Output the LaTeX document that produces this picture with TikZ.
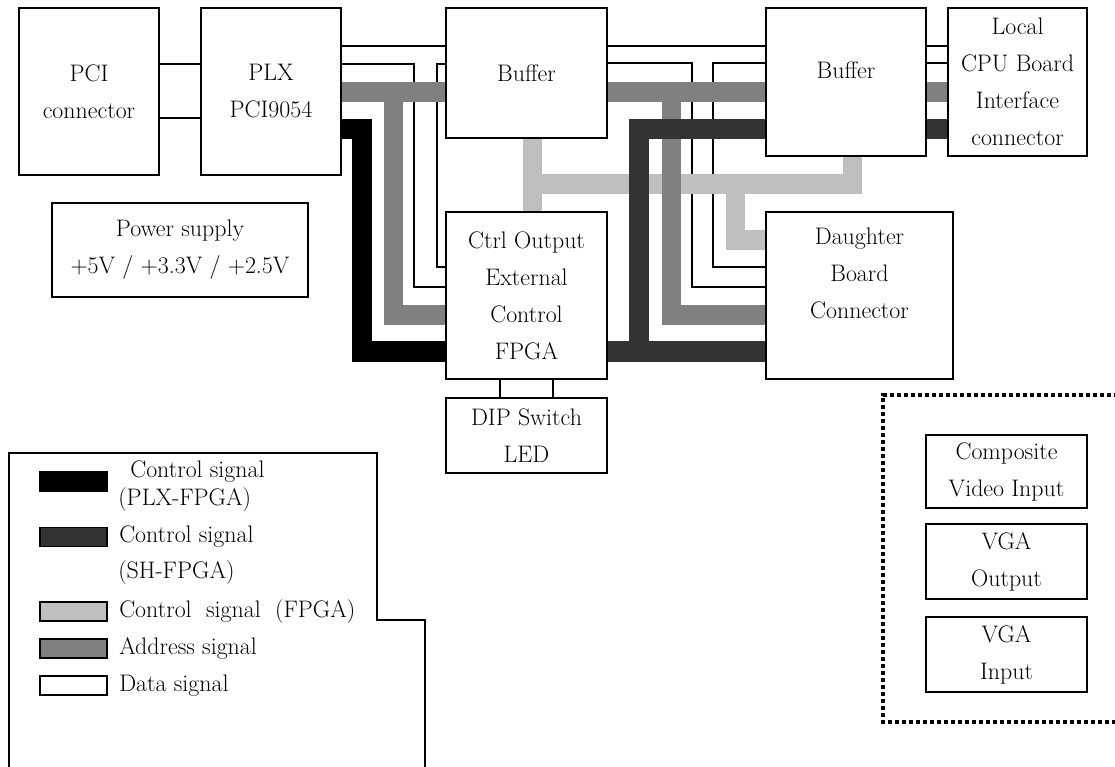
\documentclass[tikz,border=0pt]{standalone}
\usepackage{fontspec}
\usepackage{tikz}
\usetikzlibrary{positioning}
\tikzset{
block_box/.style={rectangle, draw, line width=1.8pt, fill=white, align=center, inner sep=0pt},
data_line/.style={line width=1.4pt},
ctrl_plx/.style={line width=0.5cm, color=black},
ctrl_sh/.style={line width=0.5cm, color=black!80},
ctrl_fpga/.style={line width=0.475cm, color=black!25},
addr_bus/.style={line width=0.475cm, color=black!50},
legend_swatch/.style={rectangle, draw, line width=1.4pt, minimum width=1.675cm, minimum height=0.475cm, inner sep=0pt},
legend_text/.style={anchor=west, inner sep=0pt},
legend_line/.style={line width=1.4pt},
dotted_frame/.style={line width=0.1cm, dash pattern=on 0.1cm off 0.075cm}
}

\begin{document}
\begin{tikzpicture}[x=0.025cm, y=-0.025cm, font=\fontsize{17}{26.3}\selectfont]
    \useasboundingbox (0,0) rectangle (1115,767);
    \node[block_box, minimum width=3.5cm, minimum height=4.175cm] (pci) at (89,91.5) {PCI\\connector};
    \node[block_box, minimum width=3.5cm, minimum height=4.175cm] (plx) at (271,91.5) {PLX\\PCI9054};
    \node[block_box, minimum width=4.025cm, minimum height=3.25cm] (buffer_1) at (526.5,73) {Buffer};
    \node[block_box, minimum width=4cm, minimum height=3.7cm, label={[yshift=0.3cm]center:Buffer}] (buffer_2) at (846,82) {};
    \node[block_box, minimum width=3.475cm, minimum height=3.7cm] (cpu_conn) at (1017.5,82) {Local\\CPU Board\\Interface\\connector};
    \node[block_box, minimum width=4.025cm, minimum height=4.175cm] (fpga) at (526.5,295.5) {Ctrl Output\\External\\Control\\FPGA};
    \node[block_box, minimum width=4.025cm, minimum height=1.875cm] (dip) at (526.5,435.5) {DIP Switch\\LED};
    \node[block_box, minimum width=4.675cm, minimum height=4.175cm, label={[yshift=0.5625cm, align=center]center:Daughter\\Board\\Connector}] (daughter) at (859.5,295.5) {};
    \node[block_box, minimum width=6.4cm, minimum height=2.35cm] (power) at (180,250) {Power supply\\+5V / +3.3V / +2.5V};
    \node[block_box, minimum width=4.025cm, minimum height=1.825cm] (composite) at (1006.5,471.5) {Composite\\Video Input};
    \node[block_box, minimum width=4.025cm, minimum height=1.875cm] (vga_out) at (1006.5,561.5) {VGA\\Output};
    \node[block_box, minimum width=4.025cm, minimum height=1.875cm] (vga_in) at (1006.5,654.5) {VGA\\Input};

    \draw[data_line] (pci.east |- 0,64) -- (plx.west |- 0,64);
    \draw[data_line] (pci.east |- 0,118) -- (plx.west |- 0,118);
    \draw[data_line] (plx.east |- 0,46) -- (buffer_1.west |- 0,46);
    \draw[data_line] (plx.east |- 0,64) -| (414,287) -- (fpga.west |- 0,287);
    \draw[data_line] (buffer_1.west |- 0,64) -| (437,267) -- (fpga.west |- 0,267);
    \draw[data_line] (buffer_1.east |- 0,46) -- (buffer_2.west |- 0,46);
    \draw[data_line] (buffer_1.east |- 0,63) -| (692,287) -- (daughter.west |- 0,287);
    \draw[data_line] (buffer_2.west |- 0,63) -| (713,267) -- (daughter.west |- 0,267);
    \draw[data_line] (buffer_2.east |- 0,46) -- (cpu_conn.west |- 0,46);
    \draw[data_line] (buffer_2.east |- 0,63) -- (cpu_conn.west |- 0,63);
    \draw[data_line] (fpga.south -| 500,0) -- (dip.north -| 500,0);
    \draw[data_line] (fpga.south -| 553,0) -- (dip.north -| 553,0);

    \draw[ctrl_fpga] (buffer_1.south -| 532.5,0) -- (fpga.north -| 532.5,0);
    \draw[ctrl_fpga] (532.5,184) -| (buffer_2.south -| 852.5,0);
    \draw[ctrl_fpga] (735,184) |- (daughter.west |- 0,240);

    \draw[addr_bus] (plx.east |- 0,92) -- (buffer_1.west |- 0,92);
    \draw[addr_bus] (393,92) |- (fpga.west |- 0,315);
    \draw[addr_bus] (buffer_1.east |- 0,92) -- (buffer_2.west |- 0,92);
    \draw[addr_bus] (671,92) |- (daughter.west |- 0,315);
    \draw[addr_bus] (buffer_2.east |- 0,92) -- (cpu_conn.west |- 0,92);

    \draw[ctrl_sh] (cpu_conn.west |- 0,129) -- (buffer_2.east |- 0,129);
    \draw[ctrl_sh] (buffer_2.west |- 0,129) -| (639,351.5);
    \draw[ctrl_sh] (fpga.east |- 0,351.5) -- (daughter.west |- 0,351.5);

    \draw[ctrl_plx] (plx.east |- 0,129) -| (361.5,351.5) -- (fpga.west |- 0,351.5);

    \draw[legend_line] (9,767) -- (9,453) -- (377,453) -- (377,620) -- (425,620) -- (425,767);
    \node[legend_swatch, fill=black] (sw_plx) at (73.5,481.5) {};
    \node[legend_swatch, fill=black!80] (sw_sh) at (73.5,537) {};
    \node[legend_swatch, fill=black!25] (sw_fpga) at (73.5,611.5) {};
    \node[legend_swatch, fill=black!50] (sw_addr) at (73.5,648.5) {};
    \node[legend_swatch, fill=white] (sw_data) at (73.5,685.5) {};
    \node[legend_text] (txt_plx_1) at (130,472) {Control signal};
    \node[legend_text] (txt_plx_2) at (118,500) {(PLX-FPGA)};
    \node[legend_text, right=0.275cm of sw_sh] (txt_sh_1) {Control signal};
    \node[legend_text] (txt_sh_2) at (118,573) {(SH-FPGA)};
    \node[legend_text, right=0.275cm of sw_fpga] (txt_fpga) {Control\hspace{0.6em}signal\hspace{0.6em}(FPGA)};
    \node[legend_text, right=0.275cm of sw_addr] (txt_addr) {Address signal};
    \node[legend_text, right=0.275cm of sw_data] (txt_data) {Data signal};

    \draw[dotted_frame] (1125,395) -- (883,395) -- (883,722) -- (1125,722);
\end{tikzpicture}
\end{document}
